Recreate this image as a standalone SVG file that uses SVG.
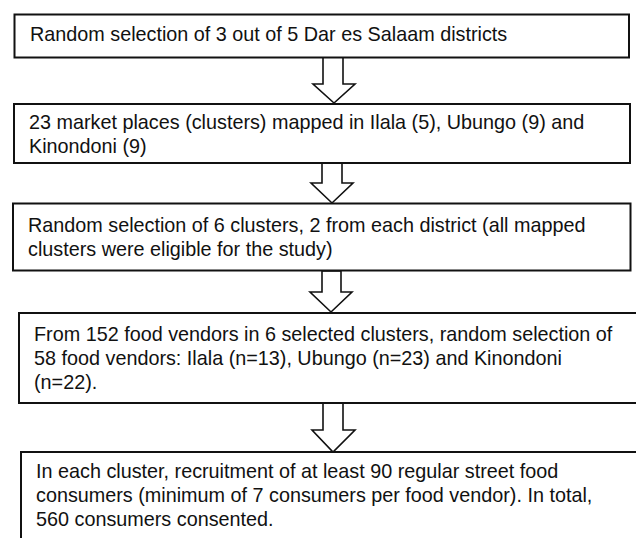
<svg xmlns="http://www.w3.org/2000/svg" width="636" height="538" viewBox="0 0 636 538">
<style>
.box{fill:#fff;stroke:#111;stroke-width:2}
.arr{fill:#fff;stroke:#111;stroke-width:1.6;stroke-linejoin:miter}
text{font-family:"Liberation Sans",Arial,sans-serif;font-size:19.8px;fill:#111}
</style>
<rect width="636" height="538" fill="#fff"/>
<g id="connectors">
<polygon class="arr" points="323,57 343,57 343,84 355,84 334,103 313,84 323,84"/>
<polygon class="arr" points="322,163 342,163 342,183 353,183 332,203 311,183 322,183"/>
<polygon class="arr" points="322,271 341,271 341,292 352,292 331,312 310,292 322,292"/>
<polygon class="arr" points="323,403 343,403 343,430 355,430 333,452 312,430 323,430"/>
</g>
<g id="n1">
<rect class="box" x="14.5" y="14.5" width="614.5" height="43"/>
<text x="30" y="40.7">Random selection of 3 out of 5 Dar es Salaam districts</text>
</g>
<g id="n2">
<rect class="box" x="14" y="104" width="616" height="59"/>
<text x="29" y="129.3">23 market places (clusters) mapped in Ilala (5), Ubungo (9) and</text>
<text x="29" y="153.3">Kinondoni (9)</text>
</g>
<g id="n3">
<rect class="box" x="13" y="203.5" width="617.5" height="67"/>
<text x="28" y="231.5">Random selection of 6 clusters, 2 from each district (all mapped</text>
<text x="28" y="255.5">clusters were eligible for the study)</text>
</g>
<g id="n4">
<rect class="box" x="19" y="313" width="630" height="90"/>
<text x="34" y="341">From 152 food vendors in 6 selected clusters, random selection of</text>
<text x="34" y="365">58 food vendors: Ilala (n=13), Ubungo (n=23) and Kinondoni</text>
<text x="34" y="389">(n=22).</text>
</g>
<g id="n5">
<rect class="box" x="21" y="452" width="630" height="100"/>
<text x="36" y="478">In each cluster, recruitment of at least 90 regular street food</text>
<text x="36" y="502">consumers (minimum of 7 consumers per food vendor). In total,</text>
<text x="36" y="526">560 consumers consented.</text>
</g>
</svg>
